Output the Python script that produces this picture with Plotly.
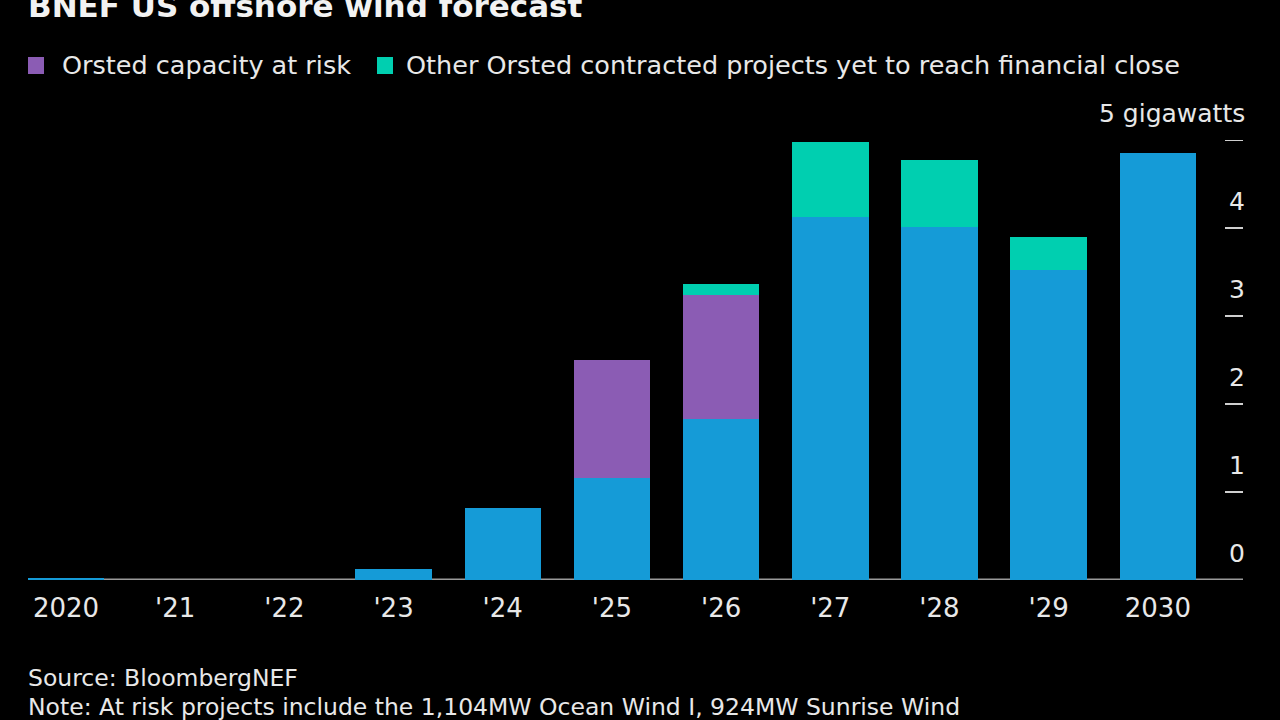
import plotly.graph_objects as go

years = ["2020", "'21", "'22", "'23", "'24", "'25", "'26", "'27", "'28", "'29", "2030"]
base_forecast = [0.015, 0, 0, 0.125, 0.82, 1.16, 1.83, 4.13, 4.01, 3.52, 4.85]
orsted_at_risk = [0, 0, 0, 0, 0, 1.34, 1.41, 0, 0, 0, 0]
orsted_other = [0, 0, 0, 0, 0, 0, 0.12, 0.85, 0.76, 0.38, 0]
y_ticks = [0, 1, 2, 3, 4, 5]
y_tick_labels = ["0", "1", "2", "3", "4", "5 gigawatts"]

BLUE = "#159bd7"
PURPLE = "#8b5cb4"
TEAL = "#00cfb0"
TEXT = "#e8e8e8"
GRAY = "#9a9a9a"
FONT = "DejaVu Sans, Liberation Sans, Arial, sans-serif"

fig = go.Figure()
fig.add_trace(go.Bar(x=years, y=base_forecast, marker=dict(color=BLUE, line=dict(width=0)),
                     name="BNEF forecast", showlegend=False))
fig.add_trace(go.Bar(x=years, y=orsted_at_risk, marker=dict(color=PURPLE, line=dict(width=0)),
                     name="Orsted capacity at risk", showlegend=False))
fig.add_trace(go.Bar(x=years, y=orsted_other, marker=dict(color=TEAL, line=dict(width=0)),
                     name="Other Orsted contracted projects yet to reach financial close", showlegend=False))

L, R, T, B = 28, 37, 140, 140
W, H = 1280, 720
plot_h = H - T - B
plot_w = W - L - R

def py(p):
    return (H - B - p) / plot_h

def px(p):
    return (p - L) / plot_w

fig.update_layout(
    width=W, height=H,
    margin=dict(l=L, r=R, t=T, b=B),
    paper_bgcolor="black", plot_bgcolor="black",
    barmode="stack", bargap=0.30,
    font=dict(family=FONT, color=TEXT, size=26),
    xaxis=dict(type="category", range=[-0.348, 10.78], showgrid=False, zeroline=False,
               showline=False, ticks="", ticklabelstandoff=10,
               tickfont=dict(size=26, color=TEXT, family=FONT)),
    yaxis=dict(range=[0, 5], showgrid=False, zeroline=False, showline=False,
               showticklabels=False, ticks=""),
)

# baseline
fig.add_shape(type="line", xref="paper", yref="y", x0=0, x1=1, y0=0, y1=0,
              line=dict(color=GRAY, width=3), layer="below")
# right-side tick marks and labels
for v, lab in zip(y_ticks, y_tick_labels):
    if v > 0:
        fig.add_shape(type="line", xref="paper", yref="y", x0=px(1225), x1=1, y0=v, y1=v,
                      line=dict(color="#cfcfcf", width=2))
    fig.add_annotation(xref="paper", yref="y", x=px(1247), y=v, text=lab, showarrow=False,
                       xanchor="right", yanchor="bottom", yshift=10,
                       font=dict(size=25, color=TEXT, family=FONT))

# title
fig.add_annotation(xref="paper", yref="paper", x=px(26), y=py(6), text="<b>BNEF US offshore wind forecast</b>",
                   showarrow=False, xanchor="left", yanchor="middle",
                   font=dict(size=31, color="#f2f2f2", family=FONT))

# legend (manual)
legend_items = [("Orsted capacity at risk", PURPLE, 28, 60),
                ("Other Orsted contracted projects yet to reach financial close", TEAL, 377, 404)]
for text, col, sx, tx in legend_items:
    fig.add_shape(type="rect", xref="paper", yref="paper", x0=px(sx), x1=px(sx + 16),
                  y0=py(74), y1=py(57), fillcolor=col, line=dict(width=0))
    fig.add_annotation(xref="paper", yref="paper", x=px(tx), y=py(65), text=text, showarrow=False,
                       xanchor="left", yanchor="middle", font=dict(size=25.5, color=TEXT, family=FONT))

# footer
fig.add_annotation(xref="paper", yref="paper", x=px(26), y=py(678), text="Source: BloombergNEF",
                   showarrow=False, xanchor="left", yanchor="middle", font=dict(size=23.5, color=TEXT, family=FONT))
fig.add_annotation(xref="paper", yref="paper", x=px(26), y=py(707),
                   text="Note: At risk projects include the 1,104MW Ocean Wind I, 924MW Sunrise Wind",
                   showarrow=False, xanchor="left", yanchor="middle", font=dict(size=23.5, color=TEXT, family=FONT))

fig.write_html("out.html")
